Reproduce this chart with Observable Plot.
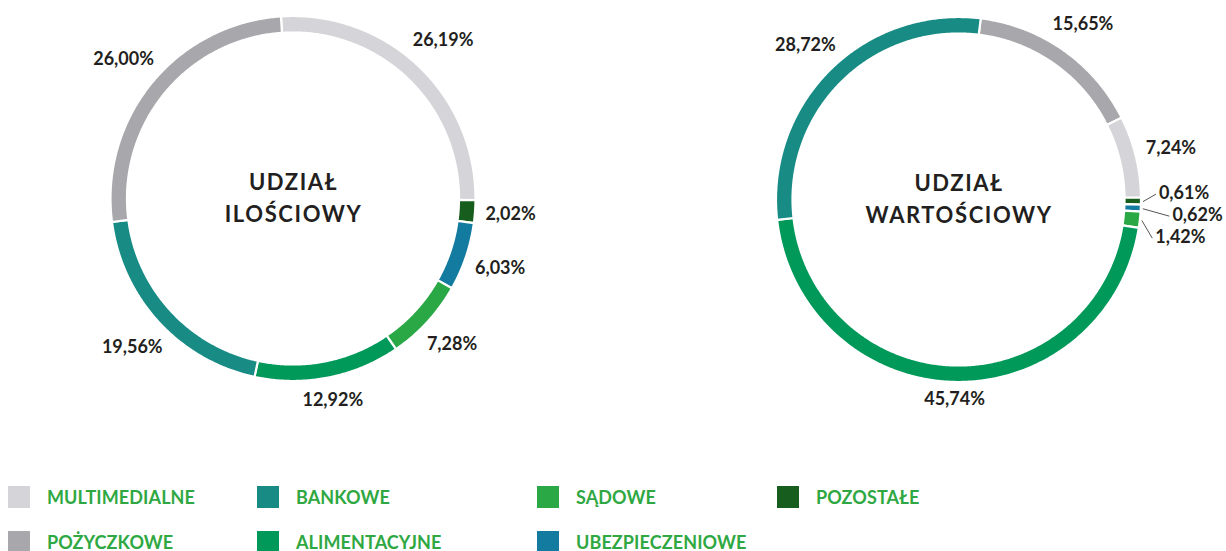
<!DOCTYPE html>
<html><head><meta charset="utf-8">
<script src="https://cdn.jsdelivr.net/npm/d3@7"></script>
<script src="https://cdn.jsdelivr.net/npm/@observablehq/plot@0.6"></script>
<style>
body{margin:0;background:#fff;font-family:Lato,sans-serif;overflow:hidden;}
#chart svg{display:block;}
#legend{position:relative;height:71px;}
.item{position:absolute;display:flex;align-items:center;height:22px;}
.sw{width:22px;height:22px;flex:none;}
.lb{margin-left:17px;font:700 18px Lato,sans-serif;color:#2fa843;white-space:nowrap;letter-spacing:0.1px;}
</style></head><body><div id="chart"></div><div id="legend"></div>
<script>
// ---- data ----
const categories = ["MULTIMEDIALNE","POŻYCZKOWE","BANKOWE","ALIMENTACYJNE","SĄDOWE","UBEZPIECZENIOWE","POZOSTAŁE"];
const categoryColors = ["#d5d4d8","#a8a7ac","#178b84","#00995a","#2ba846","#137b9f","#175d1e"];
const titleLeft = "UDZIAŁ\nILOŚCIOWY";
const titleRight = "UDZIAŁ\nWARTOŚCIOWY";
const leftOrder = ["MULTIMEDIALNE","POZOSTAŁE","UBEZPIECZENIOWE","SĄDOWE","ALIMENTACYJNE","BANKOWE","POŻYCZKOWE"];
const leftValues = [26.19, 2.02, 6.03, 7.28, 12.92, 19.56, 26.00];
const rightOrder = ["POŻYCZKOWE","MULTIMEDIALNE","POZOSTAŁE","UBEZPIECZENIOWE","SĄDOWE","ALIMENTACYJNE","BANKOWE"];
const rightValues = [15.65, 7.24, 0.61, 0.62, 1.42, 45.74, 28.72];

// ---- layout ----
const W = 1226, H = 480;
const RO = 182.5, RI = 166;
const labelFont = "700 18px Lato";
const ctx = document.createElement("canvas").getContext("2d");
ctx.font = labelFont;
const fmt = v => v.toFixed(2).replace(".", ",") + "%";
const rad = a => a * Math.PI / 180;

function donut(order, values, cx, cy, start, title) {
  const slices = [];
  let acc = 0;
  order.forEach((c, i) => {
    const v = values[i];
    const a0 = start + acc * 3.6; acc += v;
    const a1 = start + acc * 3.6;
    slices.push({cat: c, v, a0, a1, mid: (a0 + a1) / 2});
  });
  const arcs = [];
  slices.forEach(s => {
    const n = Math.max(2, Math.ceil((s.a1 - s.a0) / 0.5));
    for (let k = 0; k <= n; k++) {
      const a = rad(s.a0 + (s.a1 - s.a0) * k / n);
      arcs.push({cat: s.cat, x1: cx + RO * Math.sin(a), y1: cy - RO * Math.cos(a),
                 x2: cx + RI * Math.sin(a), y2: cy - RI * Math.cos(a)});
    }
  });
  const labels = [], smallLabels = [], leaders = [];
  const small = slices.filter(s => s.v < 2);
  slices.filter(s => s.v >= 2).forEach(s => {
    const t = fmt(s.v);
    const hw = ctx.measureText(t).width / 2, hh = 7;
    const a = rad(s.mid);
    const r = 192 + Math.abs(hw * Math.sin(a)) + Math.abs(hh * Math.cos(a));
    labels.push({x: cx + r * Math.sin(a), y: cy - r * Math.cos(a), t});
  });
  if (small.length) {
    const base = small.map(s => cy - 200 * Math.cos(rad(s.mid)));
    const mean = d3.mean(base);
    small.forEach((s, i) => {
      const a = rad(s.mid);
      const y = mean + (i - (small.length - 1) / 2) * 22 + 5;
      const re = 197 + (i % 2 ? 14 : 0);
      const xe = cx + Math.sqrt(re * re - (y - cy) ** 2);
      leaders.push({x1: cx + 184 * Math.sin(a), y1: cy - 184 * Math.cos(a), x2: xe, y2: y});
      smallLabels.push({x: xe + 3, y: y - 1, t: fmt(s.v)});
    });
  }
  return [
    Plot.area(arcs, {x1: "x1", y1: "y1", x2: "x2", y2: "y2", z: "cat", fill: "cat", stroke: "white", strokeWidth: 2.2, curve: "linear"}),
    Plot.link(leaders, {x1: "x1", y1: "y1", x2: "x2", y2: "y2", stroke: "#555", strokeWidth: 1}),
    Plot.text(labels, {x: "x", y: "y", text: "t", fontSize: 18, fontWeight: 700, fill: "#231f20", textAnchor: "middle"}),
    Plot.text(smallLabels, {x: "x", y: "y", text: "t", fontSize: 18, fontWeight: 700, fill: "#231f20", textAnchor: "start"}),
    Plot.text([{x: cx, y: cy - 3.5, t: title}], {x: "x", y: "y", text: "t", fontSize: 22, fontWeight: 700, fill: "#231f20", lineHeight: 1.45, textAnchor: "middle"})
  ];
}

const chart = Plot.plot({
  width: W, height: H, margin: 0,
  style: {fontFamily: "Lato", background: "white"},
  x: {domain: [0, W], range: [0, W], axis: null},
  y: {domain: [0, H], range: [0, H], axis: null},
  color: {domain: categories, range: categoryColors},
  marks: [
    ...donut(leftOrder, leftValues, 293, 198.5, -3.8, titleLeft),
    ...donut(rightOrder, rightValues, 958.5, 199.5, 7, titleRight)
  ]
});
chart.querySelectorAll("text").forEach(t => {
  if (t.textContent.startsWith("UDZIAŁ")) t.setAttribute("letter-spacing", "1.6");
});
document.getElementById("chart").appendChild(chart);

// legend
const colX = [8, 257, 537, 777];
const leg = document.getElementById("legend");
categories.forEach((c, i) => {
  const col = Math.floor(i / 2), row = i % 2;
  const it = document.createElement("div");
  it.className = "item";
  it.style.left = colX[col] + "px";
  it.style.top = (6 + row * 45) + "px";
  it.innerHTML = `<div class="sw" style="background:${categoryColors[i]}"></div><div class="lb">${c}</div>`;
  leg.appendChild(it);
});
</script></body></html>
